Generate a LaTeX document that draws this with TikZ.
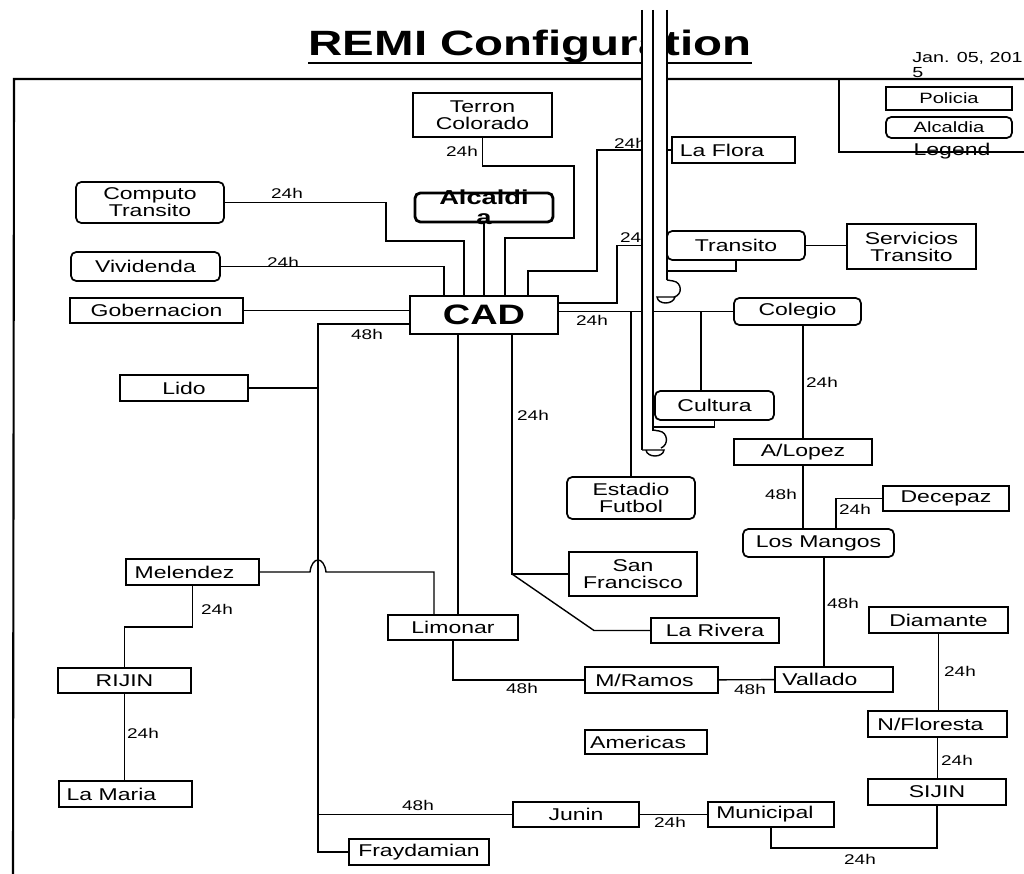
\documentclass[tikz,border=0pt]{standalone}
\usepackage{fontspec}
\setmainfont{Liberation Sans}[FakeStretch=1.35]
\newcommand{\remisz}[1]{\fontsize{#1}{#1}\selectfont}
\begin{document}
\begin{tikzpicture}[x=0.02cm,y=-0.02cm,
  pol/.style={draw,line width=1pt,inner sep=1pt,font=\remisz{9.7},align=center},
  may/.style={pol,rounded corners=3pt},
  sz/.style 2 args={minimum width=#1*0.02cm,minimum height=#2*0.02cm},
  lbl/.style={font=\remisz{8},inner sep=0pt},
  wire/.style={line width=0.8pt}]
  \useasboundingbox (0,0) rectangle (1024,874);
  \node[font=\bfseries\remisz{20},inner sep=0pt] (title) at (530,46) {REMI Configuration};
  \draw[line width=1.2pt] (title.south west) -- (title.south east);
  \node[font=\remisz{8.3},align=left,anchor=north west,inner sep=0pt] (date) at (912,52) {Jan. 05, 201\\5};
  \draw[line width=1.2pt] (13,874) -- (14,79) -- (1030,79);
  % legend
  \node[pol,sz={126}{23},font=\remisz{8.5}] (kpol) at (949,98.5) {Policia};
  \node[may,sz={126}{21},font=\remisz{8.5}] (kmay) at (949,127.5) {Alcaldia};
  \node[font=\remisz{9.7},inner sep=0pt] (ktxt) at (952,151) {Legend};
  \draw[wire] (839,79) -- (839,152) -- (1030,152);
  % sites
  \node[pol,sz={139}{44}] (terron) at (482.5,115) {Terron\\Colorado};
  \node[may,line width=1.6pt,sz={138}{29},label={[font=\bfseries\remisz{11.5},align=center,inner sep=0pt]center:Alcaldi\\a}] (alc) at (484,207.5) {};
  \node[may,sz={148}{41}] (comp) at (150,202.5) {Computo\\Transito};
  \node[may,sz={149}{29}] (viv) at (145.5,266.5) {Vividenda};
  \node[pol,sz={173}{25}] (gob) at (156.5,310.5) {Gobernacion};
  \node[pol,line width=1.6pt,sz={148}{38},font=\bfseries\remisz{16}] (cad) at (484,315) {CAD};
  \node[pol,sz={123}{26}] (flora) at (733.5,150) {La Flora\hspace*{13pt}};
  \node[may,sz={138}{29}] (trans) at (736,245.5) {Transito};
  \node[pol,sz={129}{45}] (serv) at (911.5,246.5) {Servicios\\Transito};
  \node[may,sz={127}{27}] (coleg) at (797.5,311.5) {Colegio};
  \node[may,sz={119}{29}] (cult) at (714.5,405.5) {Cultura};
  \node[may,sz={128}{42}] (estad) at (631,498) {Estadio\\Futbol};
  \node[pol,sz={138}{26}] (alop) at (803,452) {A/Lopez};
  \node[may,sz={151}{28}] (mang) at (818.5,543) {Los Mangos};
  \node[pol,sz={126}{25}] (dece) at (946,498.5) {Decepaz};
  \node[pol,sz={128}{44}] (sanf) at (633,574) {San\\Francisco};
  \node[pol,sz={128}{25}] (rivera) at (715,630.5) {La Rivera};
  \node[pol,sz={130}{25}] (limon) at (453,627.5) {Limonar};
  \node[pol,sz={133}{26}] (mramos) at (651.5,680) {M/Ramos\hspace*{8pt}};
  \node[pol,sz={118}{25}] (vall) at (834,679.5) {Vallado\hspace*{16pt}};
  \node[pol,sz={139}{26}] (diam) at (938.5,620) {Diamante};
  \node[pol,sz={139}{26}] (nflor) at (937.5,724) {N/Floresta\hspace*{8pt}};
  \node[pol,sz={138}{26}] (sijin) at (937,792) {SIJIN};
  \node[pol,sz={122}{24}] (amer) at (646,742) {Americas\hspace*{9pt}};
  \node[pol,sz={126}{25}] (junin) at (576,814.5) {Junin};
  \node[pol,sz={126}{25}] (munic) at (771,814.5) {Municipal\hspace*{7pt}};
  \node[pol,sz={140}{26}] (fray) at (419,852) {Fraydamian};
  \node[pol,sz={128}{26}] (lido) at (184,388) {Lido};
  \node[pol,sz={133}{26}] (melen) at (192.5,572) {Melendez\hspace*{9pt}};
  \node[pol,sz={133}{25}] (rijin) at (124.5,680.5) {RIJIN};
  \node[pol,sz={133}{26}] (lamaria) at (125.5,794) {La Maria\hspace*{16pt}};
  % links
  \draw[wire] (terron) |- (574,166) |- (505,238) -- (cad.north -| 505,0);
  \draw[wire] (alc) -- (cad);
  \draw[wire] (comp) -| (386,241) -| (cad.north -| 464,0);
  \draw[wire] (viv) -| (cad.north -| 444,0);
  \draw[wire] (gob) -- (gob -| cad.west);
  \draw[wire] (flora) -| (597,271) -| (cad.north -| 528,0);
  \draw[wire] (trans) -| (617,303) -- (cad.east |- 0,303);
  \draw[wire] (trans.south) |- (667,271);
  \draw[wire] (trans) -- (trans -| serv.west);
  \draw[wire] (coleg) -- (coleg -| cad.east);
  \draw[wire] (estad) -- (estad |- coleg);
  \draw[wire] (cult.north -| 701,0) -- (coleg -| 701,0);
  \draw[wire] (cult.south) |- (653,427);
  \draw[wire] (coleg.south -| alop) -- (alop);
  \draw[wire] (alop) -- (alop |- mang.north);
  \draw[wire] (dece) -| (mang.north -| 836,0);
  \draw[wire] (mang.south -| 824,0) -- (vall.north -| 824,0);
  \draw[wire] (mramos) -- (vall);
  \draw[wire] (limon.south) |- (mramos);
  \draw[wire] (cad.south -| 458,0) -- (limon.north -| 458,0);
  \coordinate (sfj) at (512,574);
  \draw[wire] (cad.south -| sfj) -- (sfj) -- (sanf);
  \draw[wire] (sfj) -- (594,630.5) -- (rivera);
  \coordinate (trk) at (318,852);
  \draw[wire] (cad.west |- 0,324) -| (trk) -- (fray);
  \draw[wire] (lido) -- (lido -| trk);
  \draw[wire] (trk |- junin) -- (junin);
  \draw[wire] (junin) -- (munic);
  \draw[wire] (munic.south) |- (937,848) -- (sijin);
  \draw[wire] (diam) -- (diam |- nflor.north);
  \draw[wire] (nflor) -- (nflor |- sijin.north);
  \draw[wire] (melen) -- (310,572) .. controls (312,556) and (324,556) .. (326,572) -| (limon.north -| 434,0);
  \draw[wire] (melen) |- (124.5,627) -- (rijin);
  \draw[wire] (rijin) -- (rijin |- lamaria.north);
  % hours
  \foreach \n/\x/\y/\t in {hcomp/287/193/24h, hviv/283/262/24h, hterron/462/151/24h,
      hflora/630/143/24h, htrans/636/237/24h, hcoleg/592/320/24h, hsanf/533/415/24h,
      htrunk/367/334/48h, halop/822/382/24h, hmang/781/494/48h, hdece/855/509/24h,
      hvall/843/603/48h, hmramos/750/689/48h, hlimon/522/688/48h, hdiam/960/671/24h,
      hnflor/957/760/24h, hsijin/860/859/24h, hjunin/670/822/24h, hfray/418/805/48h,
      hmelen/217/609/24h, hrijin/143/733/24h}
    \node[lbl] (\n) at (\x,\y) {\t};
  % the strip across the sheet
  \fill[white] (642,10) rectangle (667,281);
  \fill[white] (642,281) rectangle (653,450);
  \draw[line width=1pt] (642,10) -- (642,450);
  \draw[line width=1pt] (653,10) -- (653,431);
  \draw[wire] (667,10) -- (667,280);
  \draw[wire] (667,280) -- (673,281) .. controls (682,282) and (683,295) .. (674,297);
  \draw[wire,fill=white] (657,297) .. controls (658,305) and (673,305) .. (675,297) -- cycle;
  \draw[wire] (653,430) -- (659,431) .. controls (668,432) and (669,445) .. (661,448);
  \draw[wire,fill=white] (642,450) -- (646,450) .. controls (647,458) and (663,458) .. (664,450) -- (642,450);
\end{tikzpicture}
\end{document}
